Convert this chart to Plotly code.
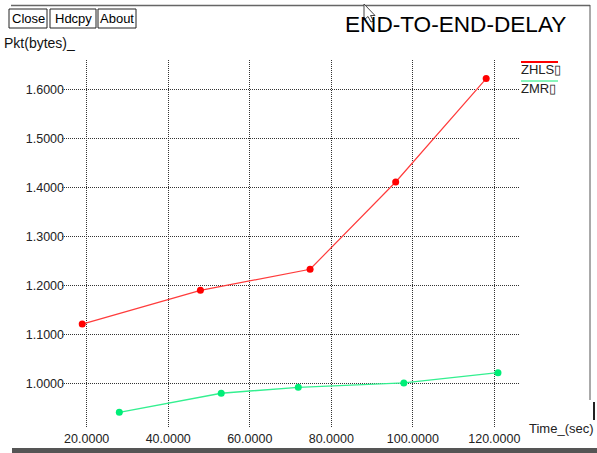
import plotly.graph_objects as go

# ---- data ----
zhls_x = [18.9, 47.9, 74.8, 95.8, 118.0]
zhls_y = [1.121, 1.190, 1.233, 1.411, 1.622]
zmr_x = [28.0, 53.0, 71.9, 97.8, 120.9]
zmr_y = [0.941, 0.980, 0.992, 1.001, 1.022]
x_ticks = [20, 40, 60, 80, 100, 120]
x_tick_labels = ["20.0000", "40.0000", "60.0000", "80.0000", "100.0000", "120.0000"]
y_ticks = [1.0, 1.1, 1.2, 1.3, 1.4, 1.5, 1.6]
y_tick_labels = ["1.0000", "1.1000", "1.2000", "1.3000", "1.4000", "1.5000", "1.6000"]
series_names = ["ZHLS\u25af", "ZMR\u25af"]
title_text = "END-TO-END-DELAY"
x_title = "Time_(sec)"
y_title = "Pkt(bytes)_"
buttons = ["Close", "Hdcpy", "About"]

W, H = 597, 453
L, R, T, B = 62, 77, 60, 25
PW, PH = W - L - R, H - T - B

def px(x):
    return (x - L) / PW

def py(y):
    return (H - B - y) / PH

RED = "#ff0000"
GREEN = "#00ee78"
FONT = "Liberation Sans, Arial, sans-serif"

fig = go.Figure()
fig.add_trace(go.Scatter(x=zhls_x, y=zhls_y, mode="lines+markers", name=series_names[0],
                         line=dict(color="#ff3b3b", width=1.2),
                         marker=dict(color=RED, size=7)))
fig.add_trace(go.Scatter(x=zmr_x, y=zmr_y, mode="lines+markers", name=series_names[1],
                         line=dict(color="#33f090", width=1.4),
                         marker=dict(color=GREEN, size=7)))

shapes = []
annotations = []

def text(x, y, s, size, color, xanchor="center"):
    annotations.append(dict(x=px(x), y=py(y), xref="paper", yref="paper", text=s,
                            xanchor=xanchor, yanchor="middle", showarrow=False,
                            font=dict(size=size, color=color, family=FONT)))

# title
text(455, 24, title_text, 22.6, "#000")
# axis titles
text(2, 43, y_title, 14, "#111", "left")
text(527, 428, x_title, 13, "#222", "left")
# legend
leg = [(series_names[0], RED, 62, 69), (series_names[1], "#88f5bb", 81, 88)]
for name, col, ly, ty in leg:
    shapes.append(dict(type="line", xref="paper", yref="paper", x0=px(521), x1=px(558),
                       y0=py(ly), y1=py(ly), line=dict(color=col, width=2)))
    text(519, ty, name, 13, "#222", "left")

# buttons
btn_pos = [(9, 47), (50, 96), (98, 136)]
for label, (x0, x1) in zip(buttons, btn_pos):
    shapes.append(dict(type="rect", xref="paper", yref="paper", x0=px(x0), x1=px(x1),
                       y0=py(9), y1=py(28), line=dict(color="#222", width=1), fillcolor="white"))
    text((x0 + x1) / 2, 18.5, label, 13, "#000")

# window frame lines
shapes.append(dict(type="line", xref="paper", yref="paper", x0=px(11), x1=px(590), y0=py(5.5), y1=py(5.5),
                   line=dict(color="#666", width=1.5)))
shapes.append(dict(type="line", xref="paper", yref="paper", x0=px(590), x1=px(590), y0=py(5), y1=py(400),
                   line=dict(color="#555", width=1)))
shapes.append(dict(type="line", xref="paper", yref="paper", x0=px(594), x1=px(594), y0=py(402), y1=py(420),
                   line=dict(color="#222", width=2)))
shapes.append(dict(type="rect", xref="paper", yref="paper", x0=px(12), x1=px(597), y0=py(448), y1=py(453),
                   line=dict(width=0), fillcolor="#555"))

# mouse cursor
pts = [(364, 4), (364, 20), (368, 16.5), (371, 22), (373.5, 21), (370.5, 15.5), (375, 15.5)]
path = "M " + " L ".join(f"{px(a):.5f},{py(b):.5f}" for a, b in pts) + " Z"
shapes.append(dict(type="path", xref="paper", yref="paper", path=path,
                   fillcolor="white", line=dict(color="#444", width=1)))

grid = dict(showgrid=True, gridcolor="#333", gridwidth=1, griddash="1px,1px",
            zeroline=False, showline=False, ticks="", automargin=False,
            tickfont=dict(size=12.5, color="#222", family=FONT))

fig.update_layout(
    template="none",
    width=W, height=H,
    margin=dict(l=L, r=R, t=T, b=B, pad=0, autoexpand=False),
    paper_bgcolor="white", plot_bgcolor="white",
    showlegend=False,
    shapes=shapes, annotations=annotations,
    xaxis=dict(range=[13.94, 126.3], tickvals=x_ticks, ticktext=x_tick_labels,
               ticklabelstandoff=1, **grid),
    yaxis=dict(range=[0.909, 1.66], tickvals=y_ticks, ticktext=y_tick_labels,
               ticklabelstandoff=-3, **grid),
)
fig.write_html("out.html", config={"displayModeBar": False},
               post_script="document.body.style.margin='0';document.body.style.overflow='hidden';")
